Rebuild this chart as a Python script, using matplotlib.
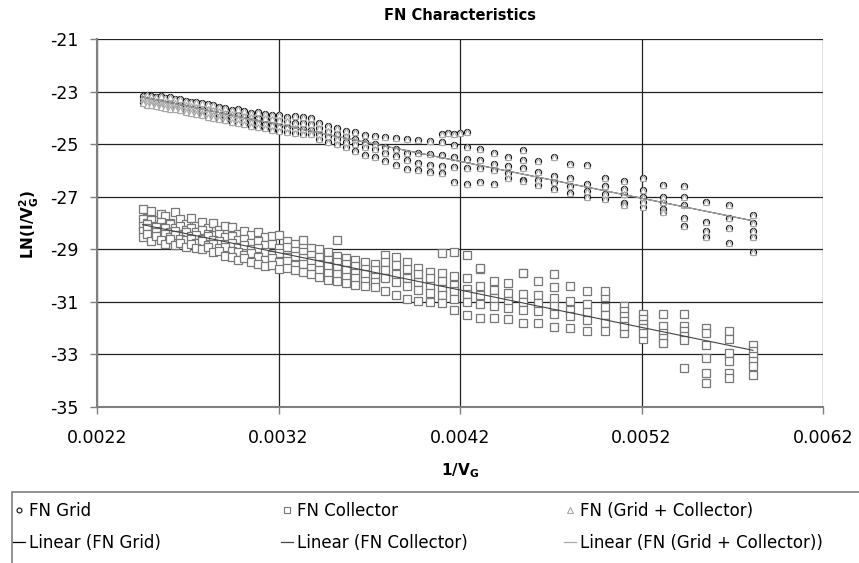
import matplotlib.pyplot as plt
from matplotlib.lines import Line2D
from matplotlib.patches import Rectangle
import numpy as np

plt.rcParams['font.family'] = ['DejaVu Sans']
plt.rcParams['axes.unicode_minus'] = False
plt.rcParams['mathtext.fontset'] = 'dejavusans'

# gate voltages of the sweep points (x axis is 1/V)
volts = [408, 404, 400, 396, 392, 388, 384, 380, 376, 372,
         368, 364, 360, 356, 352, 348, 344, 340, 336, 332,
         328, 324, 320, 316, 312, 308, 304, 300, 296, 292,
         288, 284, 280, 276, 272, 268, 264, 260, 256, 252,
         248, 244, 240, 236, 232, 228, 224, 220, 216, 212,
         208, 204, 200, 196, 192, 188, 184, 180, 176, 172]

# FN Grid, ln(I/V^2), one list per sweep
grid_a = [-23.15, -23.12, -23.18, -23.2, -23.17, -23.25, -23.22, -23.3, -23.28, -23.35,
          -23.38, -23.4, -23.45, -23.48, -23.5, -23.58, -23.62, -23.7, -23.68, -23.75,
          -23.8, -23.78, -23.85, -23.88, -23.9, -23.95, -23.92, -23.98, -24.0, -24.2,
          -24.3, -24.4, -24.5, -24.55, -24.65, -24.7, -24.72, -24.78, -24.8, -24.85,
          -24.88, -24.92, -25.05, -25.1, -25.2, -25.35, -25.5, -25.6, -25.65, -25.5,
          -25.75, -25.8, -26.3, -26.4, -26.3, -26.55, -26.6, -27.2, -27.3, -27.7]
grid_b = [-23.28, -23.3, -23.32, -23.35, -23.38, -23.4, -23.42, -23.45, -23.5, -23.52,
          -23.55, -23.6, -23.65, -23.68, -23.72, -23.75, -23.8, -23.85, -23.88, -23.92,
          -23.95, -24.0, -24.02, -24.05, -24.1, -24.12, -24.18, -24.2, -24.25, -24.4,
          -24.5, -24.6, -24.7, -24.8, -24.9, -24.98, -25.1, -25.2, -25.35, -25.35,
          -25.38, -25.42, -25.48, -25.55, -25.6, -25.75, -25.85, -25.9, -26.05, -26.2,
          -26.3, -26.5, -26.6, -26.7, -26.75, -27.0, -27.0, -27.95, -27.8, -28.0]
grid_c = [-23.38, -23.4, -23.45, -23.46, -23.5, -23.52, -23.55, -23.57, -23.6, -23.65,
          -23.7, -23.75, -23.8, -23.82, -23.88, -23.92, -23.95, -24.0, -24.05, -24.1,
          -24.15, -24.2, -24.22, -24.28, -24.3, -24.35, -24.4, -24.42, -24.45, -24.6,
          -24.7, -24.8, -24.9, -25.0, -25.1, -25.2, -25.35, -25.45, -25.6, -25.7,
          -25.8, -25.85, -25.88, -25.9, -25.9, -26.0, -26.1, -26.35, -26.35, -26.45,
          -26.6, -26.8, -26.9, -27.25, -27.0, -27.2, -27.3, -28.3, -28.2, -28.3]
grid_d = [-23.45, -23.5, -23.52, -23.55, -23.6, -23.62, -23.65, -23.68, -23.72, -23.76,
          -23.8, -23.85, -23.9, -23.95, -24.0, -24.05, -24.1, -24.15, -24.2, -24.25,
          -24.3, -24.35, -24.4, -24.45, -24.5, -24.55, -24.58, -24.6, -24.62, -24.8,
          -24.9, -25.0, -25.1, -25.25, -25.4, -25.5, -25.65, -25.8, -25.95, -26.0,
          -26.05, -26.1, -26.45, -26.5, -26.45, -26.5, -26.3, -26.4, -26.55, -26.7,
          -26.85, -27.0, -27.1, -27.3, -27.4, -27.45, -27.8, -28.55, -28.75, -28.55]
grid_extra_v = [244, 242, 240, 238, 236, 220, 196, 192, 188, 184, 172]
grid_extra_y = [-24.62, -24.58, -24.6, -24.57, -24.55, -25.23, -26.9, -27.2, -27.6, -28.1, -29.1]

# FN (Grid + Collector) sits on the grid points within reading precision
sum_a, sum_b, sum_c, sum_d = grid_a, grid_b, grid_c, grid_d
sum_extra_v, sum_extra_y = grid_extra_v, grid_extra_y

# FN Collector
coll_1 = [-27.45, -27.8, -27.55, -27.9, -27.65, -27.75, -28.0, -27.6, -27.85, -28.05,
          -27.8, -28.1, -27.95, -28.2, -28.0, -28.25, -28.1, -28.15, -28.4, -28.3,
          -28.45, -28.35, -28.55, -28.5, -28.45, -28.7, -28.8, -28.66, -28.95, -29.0,
          -29.1, -29.25, -29.35, -29.4, -29.5, -29.55, -29.2, -29.3, -29.5, -29.7,
          -29.85, -29.9, -30.0, -30.1, -29.75, -30.2, -30.3, -29.9, -30.2, -29.95,
          -30.4, -30.6, -30.8, -31.15, -31.45, -31.45, -31.45, -32.0, -32.1, -32.66]
coll_2 = [-27.85, -28.0, -27.9, -28.1, -27.95, -28.15, -28.05, -28.2, -28.1, -28.25,
          -28.2, -28.35, -28.25, -28.4, -28.45, -28.4, -28.55, -28.5, -28.65, -28.6,
          -28.75, -28.7, -28.85, -28.8, -28.95, -28.9, -29.05, -29.1, -29.2, -29.3,
          -29.4, -29.5, -29.55, -29.65, -29.75, -29.8, -29.5, -29.6, -29.75, -29.95,
          -30.1, -30.2, -30.35, -30.5, -30.4, -30.55, -30.65, -30.7, -30.75, -30.85,
          -30.95, -31.1, -31.2, -31.35, -31.65, -31.9, -31.9, -32.2, -32.4, -32.86]
coll_3 = [-28.1, -28.05, -28.25, -28.15, -28.3, -28.2, -28.35, -28.3, -28.45, -28.35,
          -28.5, -28.45, -28.6, -28.5, -28.65, -28.7, -28.8, -28.75, -28.9, -28.85,
          -29.0, -28.95, -29.1, -29.2, -29.15, -29.3, -29.25, -29.35, -29.45, -29.55,
          -29.65, -29.7, -29.8, -29.9, -29.95, -30.05, -29.8, -29.95, -30.1, -30.25,
          -30.4, -30.5, -30.6, -30.7, -30.75, -30.85, -30.95, -31.0, -31.05, -31.15,
          -31.3, -31.4, -31.5, -31.53, -31.83, -32.17, -32.1, -32.66, -32.93, -33.05]
coll_4 = [-28.3, -28.2, -28.4, -28.35, -28.5, -28.4, -28.55, -28.45, -28.6, -28.65,
          -28.6, -28.75, -28.7, -28.85, -28.8, -28.95, -28.9, -29.05, -29.1, -29.2,
          -29.15, -29.3, -29.4, -29.35, -29.5, -29.45, -29.6, -29.55, -29.7, -29.8,
          -29.9, -29.95, -30.05, -30.1, -30.2, -30.25, -30.1, -30.25, -30.4, -30.55,
          -30.65, -30.75, -30.9, -31.0, -31.1, -31.15, -31.25, -31.3, -31.35, -31.45,
          -31.55, -31.7, -31.8, -31.72, -32.0, -32.36, -32.28, -33.12, -33.24, -33.24]
coll_5 = [-28.55, -28.4, -28.7, -28.5, -28.65, -28.8, -28.6, -28.85, -28.75, -28.9,
          -28.8, -28.95, -29.0, -28.9, -29.1, -29.05, -29.25, -29.3, -29.4, -29.35,
          -29.5, -29.55, -29.65, -29.6, -29.75, -29.7, -29.8, -29.85, -29.95, -30.05,
          -30.15, -30.2, -30.3, -30.35, -30.4, -30.45, -30.6, -30.75, -30.9, -30.95,
          -31.0, -31.05, -31.3, -31.5, -31.6, -31.6, -31.65, -31.8, -31.8, -31.95,
          -32.0, -32.1, -32.1, -32.18, -32.4, -32.55, -32.47, -33.7, -33.7, -33.43]
coll_extra_v = [284, 244, 240, 236, 232, 220, 212, 200, 196, 192, 184, 180, 176, 172]
coll_extra_y = [-28.66, -29.15, -29.1, -29.2, -29.7, -29.9, -30.45, -30.6, -31.9, -32.2,
                -33.5, -34.07, -33.88, -33.8]

x_ticks = [0.0022, 0.0032, 0.0042, 0.0052, 0.0062]
x_ticklabels = ['0.0022', '0.0032', '0.0042', '0.0052', '0.0062']
y_ticks = [-35, -33, -31, -29, -27, -25, -23, -21]


def collect(tracks, extra_v, extra_y):
    xs, ys = [], []
    for t in tracks:
        xs += [1.0 / v for v in volts]
        ys += t
    xs += [1.0 / v for v in extra_v]
    ys += extra_y
    return np.array(xs), np.array(ys)


gx, gy = collect([grid_a, grid_b, grid_c, grid_d], grid_extra_v, grid_extra_y)
cx, cy = collect([coll_1, coll_2, coll_3, coll_4, coll_5], coll_extra_v, coll_extra_y)
sx, sy = collect([sum_a, sum_b, sum_c, sum_d], sum_extra_v, sum_extra_y)

fig = plt.figure(figsize=(8.59, 5.63), dpi=100)
ax = fig.add_axes([97 / 859, 1 - 407 / 563, 726 / 859, 368 / 563])

ax.plot(gx, gy, ls='none', marker='o', ms=4.4, mfc='white', mec='#111111', mew=0.8)
ax.plot(cx, cy, ls='none', marker='s', ms=5.2, mfc='white', mec='#777777', mew=0.9)
ax.plot(sx, sy, ls='none', marker='^', ms=4.4, mfc='white', mec='#a8a8a8', mew=0.8)

# linear trend lines, as Excel draws them
for xx, yy, col in [(gx, gy, '#000000'), (cx, cy, '#444444'), (sx, sy, '#aaaaaa')]:
    k, b = np.polyfit(xx, yy, 1)
    xl = np.array([xx.min(), xx.max()])
    ax.plot(xl, k * xl + b, color=col, lw=0.8)

ax.set_xlim(0.0022, 0.0062)
ax.set_ylim(-35, -21)
ax.set_xticks(x_ticks)
ax.set_xticklabels(x_ticklabels)
ax.set_yticks(y_ticks)
ax.grid(True, color='#222222', lw=0.9)
ax.set_axisbelow(True)
for s in ['top', 'right']:
    ax.spines[s].set_visible(False)
for s in ['left', 'bottom']:
    ax.spines[s].set_color('#808080')
    ax.spines[s].set_linewidth(1.5)
ax.tick_params(axis='both', length=5, width=1, color='#808080', labelsize=12.5)
ax.tick_params(axis='x', pad=11)
ax.tick_params(axis='y', pad=8)

fig.text(460 / 859, 1 - 15 / 563, 'FN Characteristics', ha='center', va='center',
         fontsize=10.5, fontweight='bold')
fig.text(29 / 859, 1 - 224 / 563, r'LN(I/V$_\mathbf{G}^\mathbf{2}$)', ha='center',
         va='center', rotation=90, fontsize=11, fontweight='bold')
fig.text(460 / 859, 1 - 471 / 563, r'1/V$_\mathbf{G}$', ha='center', va='center',
         fontsize=11, fontweight='bold')

# legend: frame running past the right and bottom edges, three columns
fig.add_artist(Rectangle((12 / 859, -0.05), 1.0, 71 / 563 + 0.05, transform=fig.transFigure,
                         facecolor='white', edgecolor='#808080', lw=1.2))
handles = [
    Line2D([], [], ls='none', marker='o', ms=3.5, mfc='white', mec='#111111', mew=0.8),
    Line2D([], [], color='#000000', lw=0.9),
    Line2D([], [], ls='none', marker='s', ms=3.8, mfc='white', mec='#777777', mew=0.8),
    Line2D([], [], color='#444444', lw=0.9),
    Line2D([], [], ls='none', marker='^', ms=3.8, mfc='white', mec='#a8a8a8', mew=0.8),
    Line2D([], [], color='#aaaaaa', lw=0.9),
]
labels = ['FN Grid', 'Linear (FN Grid)', 'FN Collector', 'Linear (FN Collector)',
          'FN (Grid + Collector)', 'Linear (FN (Grid + Collector))']
col_left = [13, 281, 564]
for i, x0 in enumerate(col_left):
    fig.legend(handles[2 * i:2 * i + 2], labels[2 * i:2 * i + 2], loc='upper left',
               bbox_to_anchor=(x0 / 859, 1 - 502 / 563), frameon=False, fontsize=12,
               handlelength=0.7, handletextpad=0.25, labelspacing=0.85,
               borderpad=0, borderaxespad=0)

fig.savefig('out.png', dpi=100)
